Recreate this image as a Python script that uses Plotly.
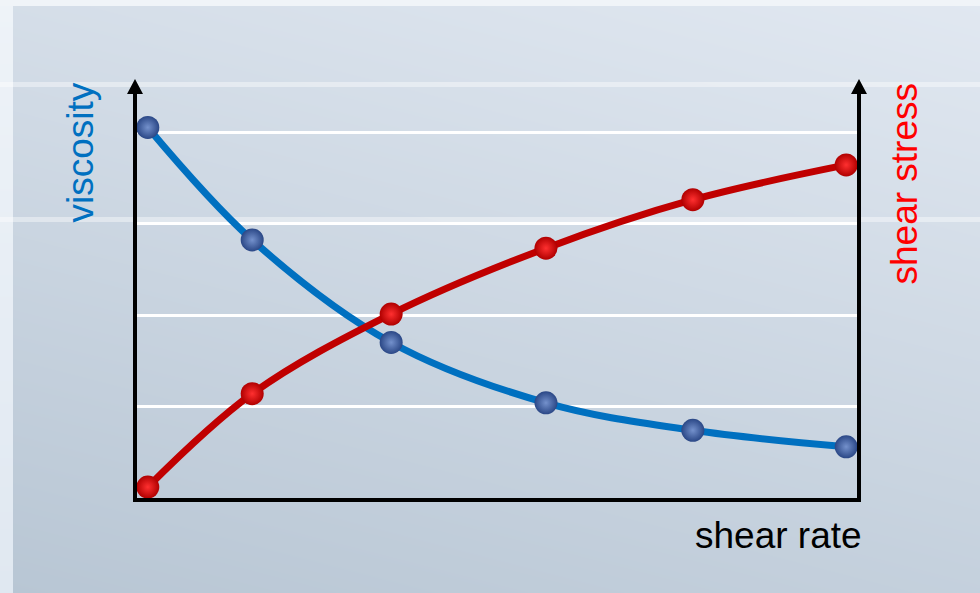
import base64
import struct
import zlib

import numpy as np
import plotly.graph_objects as go

# ---- data -----------------------------------------------------------------
shear_rate = [0.15, 1.6, 3.53, 5.68, 7.72, 9.85]
viscosity = [4.05, 2.82, 1.70, 1.04, 0.74, 0.56]
shear_stress = [0.12, 1.14, 2.01, 2.73, 3.26, 3.64]
grid_levels = [1, 2, 3, 4]

# ---- canvas geometry --------------------------------------------------------
W, H = 980, 593
ML, MR, MT, MB = 137, 123, 94, 95
PW, PH = W - ML - MR, H - MT - MB
Y_TOP = PH / 91.5
FONT = "Liberation Sans, Arial, sans-serif"


def fx(p):
    """pixel column -> paper x"""
    return (p - ML) / PW


def fy(p):
    """pixel row -> paper y"""
    return (H - MB - p) / PH


# ---- slide-style gradient background, encoded as a PNG ---------------------
def gradient_png():
    yy, xx = np.mgrid[0:H, 0:W]
    u = xx / (W - 1)
    v = yy / (H - 1)
    t = (0.7 * v + 0.3 * (1 - u))[..., None]
    light = np.array([225, 232, 241], float)
    dark = np.array([184, 198, 212], float)
    img = light + (dark - light) * t
    # pale strips along the left and top edge
    s = (yy[:, :13] / (H - 1))[..., None]
    img[:, :13] = np.array([238, 243, 248]) + (np.array([224, 232, 241]) - np.array([238, 243, 248])) * s
    img[:6, :] = np.array([240, 244, 248])
    # soft light bands
    for a, b in ((82, 87), (217, 222)):
        img[a:b] = img[a:b] * 0.6 + 255 * 0.4
    arr = np.clip(np.round(img), 0, 255).astype(np.uint8)
    sub = arr.astype(np.int16)
    sub[:, 1:, :] = (arr[:, 1:, :].astype(np.int16) - arr[:, :-1, :].astype(np.int16)) % 256
    sub = sub.astype(np.uint8).reshape(H, W * 3)
    raw = b"".join(b"\x01" + row.tobytes() for row in sub)

    def chunk(tag, data):
        c = struct.pack(">I", len(data)) + tag + data
        return c + struct.pack(">I", zlib.crc32(tag + data) & 0xFFFFFFFF)

    png = b"\x89PNG\r\n\x1a\n"
    png += chunk(b"IHDR", struct.pack(">IIBBBBB", W, H, 8, 2, 0, 0, 0))
    png += chunk(b"IDAT", zlib.compress(raw, 9))
    png += chunk(b"IEND", b"")
    return "data:image/png;base64," + base64.b64encode(png).decode()


fig = go.Figure()

fig.add_trace(go.Scatter(
    x=shear_rate, y=viscosity, mode="lines+markers", name="viscosity",
    line=dict(color="#0070c0", width=7, shape="spline"),
    marker=dict(size=23, color="#2a4786",
                gradient=dict(type="radial", color="#7491cc"),
                line=dict(width=0)),
    hoverinfo="skip",
))
fig.add_trace(go.Scatter(
    x=shear_rate, y=shear_stress, mode="lines+markers", name="shear stress",
    yaxis="y2",
    line=dict(color="#c00000", width=7, shape="spline"),
    marker=dict(size=23, color="#b00000",
                gradient=dict(type="radial", color="#ff3030"),
                line=dict(width=0)),
    hoverinfo="skip",
))

# arrowheads on top of both vertical axes
arrow_shapes = [
    dict(type="path", xref="paper", yref="paper", xsizemode="pixel", ysizemode="pixel",
         xanchor=0, yanchor=1, path="M -10,0 L 6,0 L -2,15 Z",
         fillcolor="black", line=dict(width=0)),
    dict(type="path", xref="paper", yref="paper", xsizemode="pixel", ysizemode="pixel",
         xanchor=1, yanchor=1, path="M -6,0 L 10,0 L 2,15 Z",
         fillcolor="black", line=dict(width=0)),
]

fig.update_layout(
    width=W, height=H,
    margin=dict(l=ML, r=MR, t=MT, b=MB, pad=0),
    paper_bgcolor="#cfd9e4",
    plot_bgcolor="rgba(0,0,0,0)",
    showlegend=False,
    font=dict(family=FONT),
    images=[dict(source=gradient_png(), xref="paper", yref="paper",
                 x=fx(0), y=fy(0), sizex=W / PW, sizey=H / PH,
                 xanchor="left", yanchor="top", sizing="stretch", layer="below")],
    xaxis=dict(range=[0, 10], showgrid=False, zeroline=False, showticklabels=False,
               ticks="", showline=True, linecolor="black", linewidth=4),
    yaxis=dict(range=[0, Y_TOP], tickvals=grid_levels, showticklabels=False, ticks="",
               showgrid=True, gridcolor="white", gridwidth=3, zeroline=False,
               showline=True, linecolor="black", linewidth=4),
    yaxis2=dict(range=[0, Y_TOP], overlaying="y", side="right", showgrid=False,
                zeroline=False, showticklabels=False, ticks="",
                showline=True, linecolor="black", linewidth=4),
    shapes=arrow_shapes,
    annotations=[
        dict(text="viscosity", xref="paper", yref="paper", x=fx(80), y=fy(152.5),
             textangle=-90, showarrow=False, xanchor="center", yanchor="middle",
             font=dict(family=FONT, size=37, color="#0070c0")),
        dict(text="shear stress", xref="paper", yref="paper", x=fx(904), y=fy(183.5),
             textangle=-90, showarrow=False, xanchor="center", yanchor="middle",
             font=dict(family=FONT, size=37, color="#ff0000")),
        dict(text="shear rate", xref="paper", yref="paper", x=fx(778.5), y=fy(535),
             showarrow=False, xanchor="center", yanchor="middle",
             font=dict(family=FONT, size=37, color="black")),
    ],
)

fig.write_html("out.html")
